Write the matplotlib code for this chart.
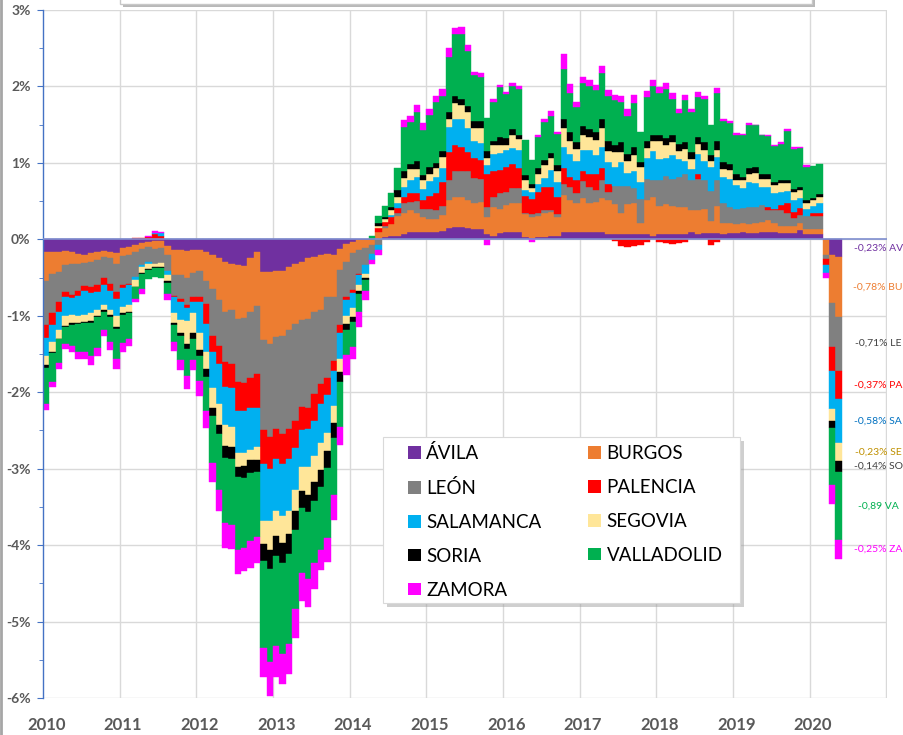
import matplotlib
matplotlib.use('Agg')
import matplotlib.pyplot as plt
from matplotlib.patches import Patch, Rectangle
from matplotlib.lines import Line2D
from matplotlib.ticker import MultipleLocator
import numpy as np

plt.rcParams['font.family'] = ['Lato', 'DejaVu Sans']

# monthly contribution (percentage points), Jan 2010 .. May 2020
avila = [-0.17, -0.17, -0.16, -0.15, -0.17, -0.19, -0.20, -0.18, -0.17, -0.15, -0.17, -0.18,
         -0.11, -0.10, -0.07, -0.05, -0.03, -0.02, -0.02, -0.09, -0.14, -0.14, -0.15, -0.14,
         -0.14, -0.17, -0.21, -0.25, -0.30, -0.32, -0.34, -0.35, -0.25, -0.17, -0.43, -0.43,
         -0.41, -0.41, -0.36, -0.32, -0.30, -0.25, -0.23, -0.21, -0.19, -0.21, -0.12, -0.06,
         -0.03, -0.01, -0.01, -0.01, 0.01, 0.03, 0.05, 0.05, 0.07, 0.09, 0.10, 0.10,
         0.10, 0.10, 0.11, 0.15, 0.16, 0.16, 0.15, 0.13, 0.13, 0.07, 0.05, 0.08,
         0.10, 0.10, 0.10, 0.03, 0.02, 0.03, 0.03, 0.04, 0.04, 0.10, 0.10, 0.10,
         0.10, 0.10, 0.10, 0.10, 0.07, 0.07, 0.07, 0.07, 0.07, 0.07, 0.07, 0.05,
         0.07, 0.07, 0.07, 0.07, 0.07, 0.10, 0.07, 0.08, 0.08, 0.08, 0.07, 0.08,
         0.08, 0.10, 0.08, 0.08, 0.10, 0.10, 0.10, 0.08, 0.08, 0.08, 0.12, 0.07,
         0.07, 0.07, -0.01, -0.21, -0.23]
burgos = [-0.38, -0.28, -0.27, -0.19, -0.15, -0.13, -0.11, -0.12, -0.10, -0.08, -0.07, -0.14,
          -0.11, -0.10, -0.09, -0.08, -0.07, -0.10, -0.09, -0.12, -0.33, -0.33, -0.35, -0.30,
          -0.28, -0.37, -0.44, -0.55, -0.65, -0.61, -0.70, -0.68, -0.70, -0.70, -0.89, -0.94,
          -0.87, -0.85, -0.83, -0.79, -0.76, -0.79, -0.72, -0.72, -0.57, -0.55, -0.28, -0.24,
          -0.15, -0.13, -0.10, -0.06, 0.08, 0.12, 0.15, 0.26, 0.28, 0.29, 0.25, 0.19,
          0.17, 0.17, 0.21, 0.37, 0.39, 0.39, 0.37, 0.35, 0.36, 0.22, 0.37, 0.32,
          0.35, 0.37, 0.38, 0.30, 0.27, 0.27, 0.31, 0.32, 0.25, 0.48, 0.41, 0.37,
          0.44, 0.37, 0.39, 0.44, 0.44, 0.39, 0.28, 0.39, 0.41, 0.15, 0.44, 0.50,
          0.37, 0.39, 0.37, 0.35, 0.35, 0.28, 0.31, 0.32, 0.16, 0.36, 0.15, 0.14,
          0.12, 0.11, 0.12, 0.14, 0.13, 0.15, 0.11, 0.10, 0.10, 0.10, 0.09, 0.07,
          0.07, 0.07, -0.19, -0.62, -0.78]
leon = [-0.57, -0.52, -0.39, -0.35, -0.41, -0.35, -0.30, -0.33, -0.33, -0.28, -0.35, -0.37,
        -0.38, -0.38, -0.33, -0.20, -0.20, -0.20, -0.20, -0.20, -0.27, -0.31, -0.36, -0.32,
        -0.33, -0.31, -0.61, -0.59, -0.65, -0.70, -0.83, -0.85, -0.87, -0.89, -1.18, -1.22,
        -1.20, -1.29, -1.29, -1.27, -1.13, -1.16, -1.07, -0.96, -1.05, -0.83, -0.72, -0.46,
        -0.48, -0.31, -0.22, -0.12, -0.07, 0.02, 0.00, 0.04, 0.13, 0.11, 0.15, 0.11,
        0.13, 0.11, 0.11, 0.26, 0.35, 0.35, 0.37, 0.32, 0.30, 0.13, 0.13, 0.20,
        0.17, 0.20, 0.19, 0.02, 0.04, 0.04, 0.05, 0.03, 0.04, 0.15, 0.17, 0.13,
        0.22, 0.22, 0.15, 0.24, 0.11, 0.24, 0.35, 0.24, 0.19, 0.31, 0.28, 0.22,
        0.33, 0.37, 0.35, 0.39, 0.44, 0.39, 0.41, 0.37, 0.39, 0.33, 0.26, 0.20,
        0.20, 0.20, 0.22, 0.20, 0.22, 0.13, 0.17, 0.20, 0.17, 0.10, 0.11, 0.16,
        0.17, 0.17, -0.06, -0.58, -0.71]
palencia = [-0.17, -0.15, -0.13, -0.07, -0.04, -0.07, -0.07, -0.07, -0.09, -0.09, -0.09, -0.09,
            -0.04, -0.02, 0.02, 0.02, 0.035, 0.07, 0.05, 0.00, -0.02, -0.04, -0.04, -0.06,
            -0.07, -0.26, -0.22, -0.24, -0.33, -0.31, -0.37, -0.37, -0.39, -0.44, -0.44, -0.41,
            -0.39, -0.39, -0.39, -0.35, -0.31, -0.28, -0.35, -0.26, -0.22, -0.13, -0.11, -0.04,
            -0.04, -0.02, 0.00, 0.00, 0.06, 0.06, 0.09, 0.06, 0.08, 0.12, 0.11, 0.11,
            0.17, 0.22, 0.32, 0.36, 0.33, 0.31, 0.25, 0.26, 0.25, 0.44, 0.35, 0.31,
            0.33, 0.31, 0.26, 0.22, 0.20, 0.28, 0.30, 0.30, 0.22, 0.20, 0.13, 0.17,
            0.13, 0.17, 0.22, 0.15, 0.11, -0.02, -0.09, -0.10, -0.09, -0.07, -0.03, 0.00,
            -0.04, -0.05, -0.06, -0.05, -0.04, 0.00, 0.07, 0.00, -0.07, -0.03, 0.00, 0.00,
            0.00, 0.00, 0.00, 0.00, 0.00, 0.04, 0.02, 0.07, 0.13, 0.08, 0.09, 0.00,
            0.04, 0.04, -0.07, -0.31, -0.37]
salamanca = [-0.24, -0.22, -0.24, -0.24, -0.22, -0.26, -0.31, -0.26, -0.24, -0.26, -0.24, -0.22,
             -0.25, -0.26, -0.04, -0.03, -0.02, 0.01, 0.03, -0.06, -0.20, -0.24, -0.17, -0.15,
             -0.41, -0.37, -0.46, -0.52, -0.50, -0.52, -0.55, -0.55, -0.55, -0.52, -0.74, -0.68,
             -0.68, -0.68, -0.68, -0.55, -0.48, -0.50, -0.46, -0.52, -0.50, -0.46, -0.33, -0.20,
             -0.20, -0.13, -0.12, -0.08, -0.07, 0.00, 0.03, 0.06, 0.12, 0.17, 0.20, 0.15,
             0.19, 0.22, 0.18, 0.33, 0.35, 0.36, 0.32, 0.22, 0.22, 0.11, 0.22, 0.22,
             0.22, 0.22, 0.24, 0.08, 0.09, 0.11, 0.11, 0.22, 0.20, 0.28, 0.31, 0.26,
             0.28, 0.31, 0.24, 0.28, 0.28, 0.24, 0.31, 0.17, 0.23, 0.22, 0.28, 0.39,
             0.28, 0.24, 0.31, 0.24, 0.17, 0.15, 0.26, 0.26, 0.31, 0.31, 0.33, 0.37,
             0.31, 0.26, 0.33, 0.32, 0.24, 0.26, 0.20, 0.17, 0.15, 0.15, 0.13, 0.10,
             0.09, 0.13, -0.11, -0.50, -0.58]
segovia = [-0.12, -0.13, -0.11, -0.13, -0.11, -0.09, -0.09, -0.11, -0.07, -0.07, -0.07, -0.15,
           -0.08, -0.09, -0.09, -0.08, -0.07, -0.04, -0.05, -0.08, -0.13, -0.17, -0.30, -0.26,
           -0.22, -0.22, -0.26, -0.28, -0.28, -0.26, -0.19, -0.17, -0.13, -0.17, -0.31, -0.39,
           -0.33, -0.35, -0.31, -0.28, -0.31, -0.37, -0.35, -0.35, -0.24, -0.22, -0.17, -0.11,
           -0.11, -0.07, -0.05, 0.00, 0.03, 0.03, 0.07, 0.09, 0.12, 0.14, 0.11, 0.11,
           0.10, 0.11, 0.15, 0.11, 0.20, 0.19, 0.20, 0.17, 0.20, 0.09, 0.12, 0.11,
           0.07, 0.16, 0.14, 0.13, 0.05, 0.13, 0.17, 0.15, 0.15, 0.24, 0.17, 0.15,
           0.20, 0.17, 0.20, 0.24, 0.15, 0.20, 0.13, 0.15, 0.20, 0.19, 0.13, 0.13,
           0.24, 0.17, 0.17, 0.11, 0.15, 0.13, 0.13, 0.14, 0.09, 0.09, 0.11, 0.12,
           0.07, 0.10, 0.11, 0.13, 0.10, 0.11, 0.11, 0.12, 0.11, 0.11, 0.11, 0.07,
           0.07, 0.07, 0.00, -0.15, -0.23]
soria = [-0.03, -0.02, -0.01, -0.02, -0.02, -0.02, -0.02, -0.02, -0.02, -0.02, -0.02, -0.02,
         -0.02, -0.02, -0.01, -0.01, -0.01, -0.01, -0.01, -0.02, -0.03, -0.04, -0.07, -0.07,
         -0.07, -0.10, -0.11, -0.12, -0.15, -0.15, -0.13, -0.15, -0.17, -0.15, -0.22, -0.24,
         -0.26, -0.26, -0.26, -0.24, -0.22, -0.22, -0.24, -0.22, -0.22, -0.20, -0.13, -0.07,
         -0.07, -0.04, -0.03, 0.00, 0.03, 0.03, 0.03, 0.09, 0.09, 0.07, 0.10, 0.07,
         0.08, 0.07, 0.07, 0.08, 0.10, 0.08, 0.09, 0.10, 0.09, 0.09, 0.05, 0.10,
         0.09, 0.08, 0.06, 0.06, 0.06, 0.07, 0.07, 0.07, 0.07, 0.13, 0.11, 0.09,
         0.11, 0.10, 0.11, 0.13, 0.13, 0.09, 0.13, 0.09, 0.11, 0.07, 0.09, 0.07,
         0.08, 0.09, 0.09, 0.09, 0.09, 0.09, 0.09, 0.10, 0.07, 0.11, 0.09, 0.08,
         0.07, 0.05, 0.07, 0.07, 0.06, 0.07, 0.04, 0.03, 0.04, 0.04, 0.04, 0.04,
         0.03, 0.04, 0.00, -0.10, -0.14]
valladolid = [-0.48, -0.37, -0.31, -0.22, -0.27, -0.37, -0.37, -0.44, -0.40, -0.24, -0.33, -0.39,
              -0.37, -0.33, -0.15, -0.20, -0.12, -0.12, -0.13, -0.15, -0.22, -0.31, -0.35, -0.28,
              -0.33, -0.45, -0.61, -0.73, -0.85, -0.87, -0.96, -0.92, -0.89, -0.85, -1.13, -1.22,
              -1.18, -1.20, -1.18, -1.03, -0.85, -0.87, -0.81, -0.83, -0.92, -0.74, -0.59, -0.33,
              -0.33, -0.24, -0.14, 0.04, 0.09, 0.14, 0.19, 0.28, 0.58, 0.55, 0.65, 0.59,
              0.68, 0.79, 0.72, 0.73, 0.80, 0.84, 0.72, 0.60, 0.58, 0.44, 0.50, 0.65,
              0.57, 0.56, 0.60, 0.46, 0.31, 0.41, 0.50, 0.48, 0.41, 0.65, 0.52, 0.46,
              0.57, 0.57, 0.55, 0.60, 0.59, 0.59, 0.52, 0.50, 0.57, 0.39, 0.57, 0.64,
              0.54, 0.64, 0.47, 0.40, 0.55, 0.53, 0.52, 0.57, 0.39, 0.63, 0.54, 0.53,
              0.52, 0.54, 0.57, 0.55, 0.51, 0.49, 0.47, 0.48, 0.64, 0.52, 0.51, 0.44,
              0.42, 0.40, 0.00, -0.75, -0.89]
zamora = [-0.07, -0.07, -0.07, -0.07, -0.09, -0.09, -0.09, -0.11, -0.11, -0.08, -0.11, -0.13,
          -0.11, -0.09, -0.04, -0.07, 0.01, 0.03, 0.02, -0.07, -0.12, -0.13, -0.17, -0.13,
          -0.20, -0.22, -0.26, -0.28, -0.33, -0.31, -0.31, -0.30, -0.35, -0.35, -0.39, -0.44,
          -0.41, -0.39, -0.39, -0.39, -0.37, -0.37, -0.35, -0.26, -0.31, -0.33, -0.24, -0.26,
          -0.15, -0.20, -0.13, -0.05, -0.07, 0.00, 0.00, 0.00, 0.09, 0.07, 0.09, 0.09,
          0.09, 0.09, 0.10, 0.11, 0.09, 0.10, 0.07, 0.04, 0.04, -0.08, 0.04, 0.03,
          0.03, 0.05, 0.04, 0.00, -0.03, 0.02, 0.03, 0.07, 0.02, 0.20, 0.11, 0.07,
          0.07, 0.07, 0.06, 0.09, 0.07, 0.07, 0.09, 0.09, 0.11, 0.00, 0.08, 0.09,
          0.08, 0.08, 0.08, 0.06, 0.07, 0.04, 0.07, 0.04, 0.00, 0.07, 0.03, 0.03,
          0.02, 0.02, 0.02, 0.01, 0.01, 0.01, 0.02, 0.02, 0.02, 0.03, 0.01, 0.02,
          0.00, 0.00, -0.07, -0.24, -0.25]

provinces = ['ÁVILA', 'BURGOS', 'LEÓN', 'PALENCIA', 'SALAMANCA',
             'SEGOVIA', 'SORIA', 'VALLADOLID', 'ZAMORA']
series = [avila, burgos, leon, palencia, salamanca, segovia, soria, valladolid, zamora]
colors = ['#7030A0', '#ED7D31', '#808080', '#FF0000', '#00B0F0',
          '#FFE699', '#000000', '#00B050', '#FF00FF']
years = [str(y) for y in range(2010, 2021)]
end_labels = ['-0,23% AV', '-0,78% BU', '-0,71% LE', '-0,37% PA', '-0,58% SA',
              '-0,23% SE', '-0,14% SO', '-0,89 VA', '-0,25% ZA']
end_colors = ['#7030A0', '#ED7D31', '#404040', '#FF0000', '#0070C0',
              '#BF9000', '#404040', '#00B050', '#FF00FF']

W, H = 904, 735
fig = plt.figure(figsize=(W / 100, H / 100), dpi=100)
ax = fig.add_axes([43 / W, 1 - 698 / H, (887 - 43) / W, (698 - 10) / H])

n = len(avila)
x = np.arange(n)
pos_base = np.zeros(n)
neg_base = np.zeros(n)
for vals, c in zip(series, colors):
    v = np.array(vals, dtype=float)
    up = v > 0
    dn = v < 0
    ax.bar(x[up], v[up], width=1, bottom=pos_base[up], align='edge',
           color=c, edgecolor=c, linewidth=0.3, zorder=2)
    ax.bar(x[dn], v[dn], width=1, bottom=neg_base[dn], align='edge',
           color=c, edgecolor=c, linewidth=0.3, zorder=2)
    pos_base[up] += v[up]
    neg_base[dn] += v[dn]

# labels next to the last bar, at the middle of each segment
base = 0.0
for vals, txt, c in zip(series, end_labels, end_colors):
    v = vals[-1]
    ax.text(130.7, base + v / 2, txt, color=c, fontsize=7.5,
            ha='center', va='center', clip_on=False)
    base += v

x_right = (887 - 43) / 6.39
ax.set_xlim(0, x_right)
ax.set_ylim(-6, 3)

grid_c = '#d9d9d9'
for yv in range(-6, 4):
    ax.axhline(yv, color=grid_c, lw=1, zorder=0)
for k in range(1, 12):
    ax.axvline(12 * k, color=grid_c, lw=1, zorder=0)
ax.axhline(0, color='#7F8FD0', lw=1.2, zorder=3)

for s in ['top', 'right', 'bottom']:
    ax.spines[s].set_visible(False)
ax.spines['left'].set_color('#4472C4')
ax.spines['left'].set_linewidth(1)

yt = list(range(-6, 4))
ax.set_yticks(yt)
ax.set_yticklabels([f'{v}%' for v in yt], fontsize=10, fontweight='bold', color='#595959')
ax.yaxis.set_minor_locator(MultipleLocator(0.5))
ax.tick_params(axis='y', which='major', length=4, color='#4472C4', pad=5)
ax.tick_params(axis='y', which='minor', length=3, color='#4472C4')

ax.set_xticks([12 * k + 0.5 for k in range(len(years))])
ax.set_xticklabels(years, fontsize=12, fontweight='bold', color='#595959')
ax.tick_params(axis='x', length=0, pad=14)

# cropped title box at the top
fig.add_artist(Rectangle((123 / W, 1 - 7 / H), 692 / W, 0.05, facecolor='#b8b8b8',
                         edgecolor='none', transform=fig.transFigure, zorder=1))
fig.add_artist(Rectangle((120 / W, 1 - 4 / H), 692 / W, 0.05, facecolor='white',
                         edgecolor='#c8c8c8', lw=1, transform=fig.transFigure, zorder=1))
fig.add_artist(Line2D([1 / W, 1 / W], [0, 1], color='#a6a6a6', lw=2,
                      transform=fig.transFigure))

# legend box with shadow
lx0, ly0, lx1, ly1 = 383, 437, 740, 603
fig.add_artist(Rectangle(((lx0 + 4) / W, 1 - (ly1 + 4) / H), (lx1 - lx0) / W, (ly1 - ly0) / H,
                         facecolor='#a0a0a0', alpha=0.5, edgecolor='none',
                         transform=fig.transFigure, zorder=4))
fig.add_artist(Rectangle((lx0 / W, 1 - ly1 / H), (lx1 - lx0) / W, (ly1 - ly0) / H,
                         facecolor='white', edgecolor='#d9d9d9', lw=0.8,
                         transform=fig.transFigure, zorder=4))
order = [0, 2, 4, 6, 8, 1, 3, 5, 7]
handles = [Patch(facecolor=colors[i], edgecolor='none') for i in order]
labels = [provinces[i] for i in order]
fig.legend(handles, labels, loc='upper left', bbox_to_anchor=(408 / W, 1 - 444 / H),
           ncol=2, frameon=False, fontsize=13.5, handlelength=0.67, handleheight=0.67,
           handletextpad=0.3, labelspacing=0.9, columnspacing=2.5, borderpad=0,
           borderaxespad=0)

fig.savefig('out.png', dpi=100)
